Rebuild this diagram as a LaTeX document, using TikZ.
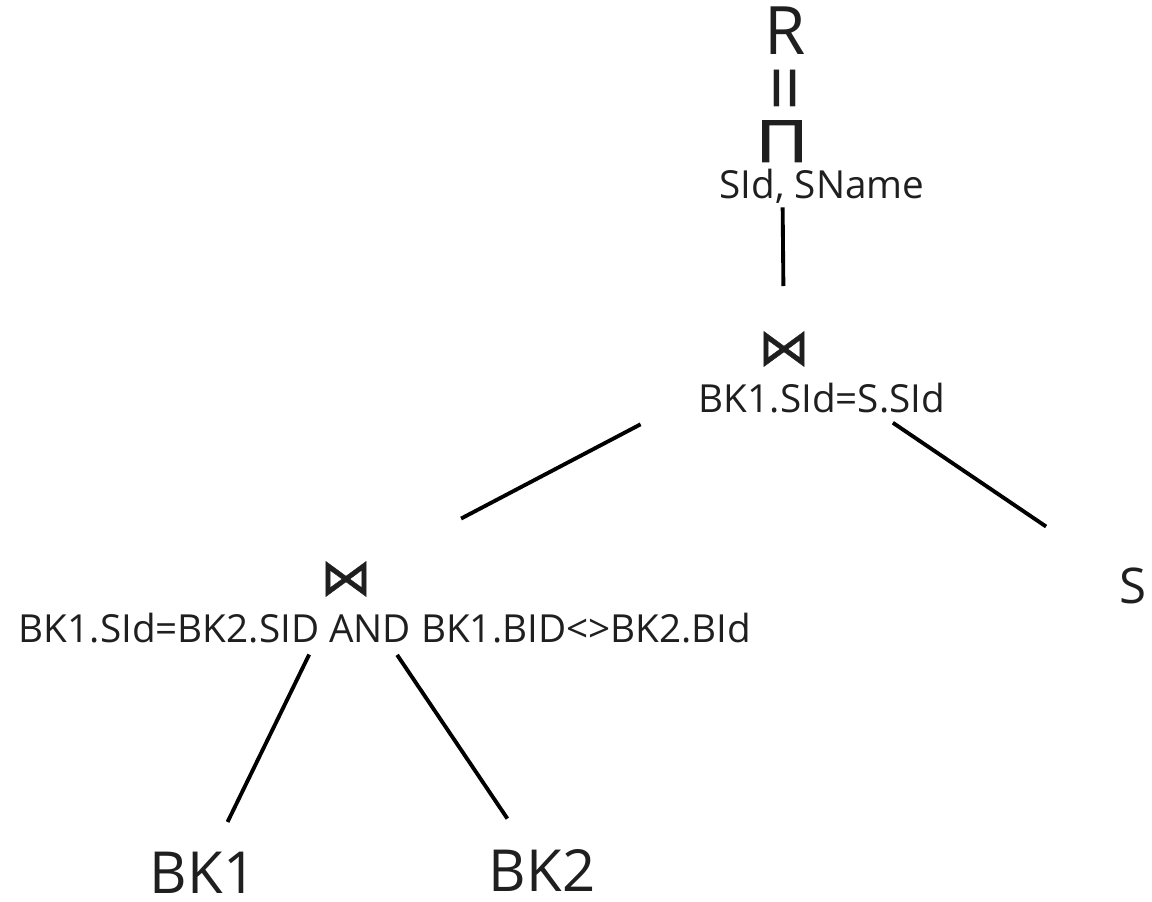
\documentclass[tikz,border=0pt]{standalone}
\usepackage{fontspec}
\setmainfont{Open Sans}
\newfontfamily\symfont[FakeBold=0.8]{DejaVu Sans}
\newfontfamily\projfont[FakeBold=1.6]{Open Sans}
\newcommand*{\joinsym}{{\symfont ⋈}}
\newcommand*{\projsym}{{\projfont Π}}

\begin{document}
\begin{tikzpicture}[x=0.2mm, y=-0.2mm,
	every node/.style={inner sep=0pt, outer sep=0pt, text=black!88},
	rel/.style={font=\fontsize{33}{38}\selectfont, anchor=base},
	cond/.style={font=\fontsize{22}{26}\selectfont, anchor=base},
	op/.style={font=\fontsize{29}{34}\selectfont},
	edge/.style={draw, line width=2.2pt}]
	\useasboundingbox (0,0) rectangle (1152,902);
	% projection on top
	\node [rel, font=\fontsize{38}{44}\selectfont] (res) at (785,55) {R};
	\node [rotate=90, font=\fontsize{46}{50}\selectfont] (eq) at (794,88) {=};
	\node [anchor=base, xscale=1.25, font=\fontsize{33}{36}\selectfont] (proj) at (782,162) {\projsym};
	\node [cond] (projcond) at (822,198) {SId, SName};
	% upper join
	\node [op] (joinA) at (784,349) {\joinsym};
	\node [cond] (joinAcond) at (822,412) {BK1.SId=S.SId};
	\node [rel, font=\fontsize{28}{32}\selectfont] (relS) at (1133,603) {S};
	% lower join
	\node [op] (joinB) at (346,579) {\joinsym};
	\node [cond] (joinBcond) at (385,642) {BK1.SId=BK2.SID AND BK1.BID<>BK2.BId};
	\node [rel] (relBKa) at (203,893) {BK1};
	\node [rel] (relBKb) at (542,891) {BK2};
	% tree edges
	\path [edge, shorten <=13.2mm, shorten >=12.6mm] (proj.center) -- (joinA.center);
	\path [edge, shorten <=32.4mm, shorten >=26mm] (joinA.center) -- (joinB.center);
	\path [edge, shorten <=26.3mm, shorten >=21mm] (joinA.center) -- (relS.center);
	\path [edge, shorten <=16.8mm, shorten >=11.2mm] (joinB.center) -- (relBKa.center);
	\path [edge, shorten <=18.3mm, shorten >=12.4mm] (joinB.center) -- (relBKb.center);
\end{tikzpicture}
\end{document}
